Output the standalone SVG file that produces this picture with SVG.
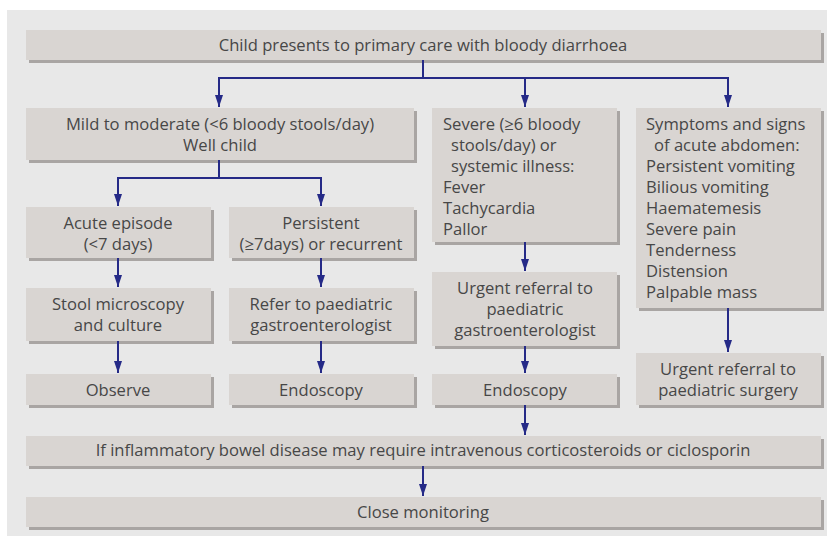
<svg xmlns="http://www.w3.org/2000/svg" width="827" height="536" viewBox="0 0 827 536">
<defs>
<style>
.box{fill:#d9d5d2}
.sh{fill:#a9a5a3}
text{font-family:"Open Sans","Noto Sans",sans-serif;font-size:16.6px;fill:#474747}
.c{text-anchor:middle}
.ln{fill:none;stroke:#252a87;stroke-width:2}
</style>
<marker id="ah" viewBox="0 0 12 8" refX="12" refY="4" markerWidth="12" markerHeight="8" markerUnits="userSpaceOnUse" orient="auto">
<path d="M0,0 L12,4 L0,8 Z" fill="#252a87"/>
</marker>
</defs>
<rect x="7" y="10" width="820" height="526" fill="#e8e8e8"/>

<g id="n-top"><rect class="sh" x="29" y="33" width="795" height="30"/><rect class="box" x="26" y="30" width="795" height="30"/><text class="c" x="423" y="51">Child presents to primary care with bloody diarrhoea</text></g>

<g id="n-mild"><rect class="sh" x="29" y="111" width="388" height="52"/><rect class="box" x="26" y="108" width="388" height="52"/><text class="c" x="220" y="130">Mild to moderate (&lt;6 bloody stools/day)</text><text class="c" x="220" y="151">Well child</text></g>

<g id="n-severe"><rect class="sh" x="435" y="111" width="185" height="134"/><rect class="box" x="432" y="108" width="185" height="134"/>
<text x="443" y="130">Severe (≥6 bloody</text><text x="451" y="151">stools/day) or</text><text x="451" y="172">systemic illness:</text><text x="443" y="193">Fever</text><text x="443" y="214">Tachycardia</text><text x="443" y="235">Pallor</text></g>

<g id="n-symptoms"><rect class="sh" x="639" y="111" width="185" height="200"/><rect class="box" x="636" y="108" width="185" height="200"/>
<text x="646" y="130">Symptoms and signs</text><text x="654" y="151">of acute abdomen:</text><text x="646" y="172">Persistent vomiting</text><text x="646" y="193">Bilious vomiting</text><text x="646" y="214">Haematemesis</text><text x="646" y="235">Severe pain</text><text x="646" y="256">Tenderness</text><text x="646" y="277">Distension</text><text x="646" y="298">Palpable mass</text></g>

<g id="n-acute"><rect class="sh" x="29" y="210" width="185" height="51"/><rect class="box" x="26" y="207" width="185" height="51"/><text class="c" x="118" y="229">Acute episode</text><text class="c" x="118" y="250">(&lt;7 days)</text></g>

<g id="n-persistent"><rect class="sh" x="232" y="210" width="185" height="51"/><rect class="box" x="229" y="207" width="185" height="51"/><text class="c" x="321" y="229">Persistent</text><text class="c" x="321" y="250">(≥7days) or recurrent</text></g>

<g id="n-stool"><rect class="sh" x="29" y="291" width="185" height="53"/><rect class="box" x="26" y="288" width="185" height="53"/><text class="c" x="118" y="310">Stool microscopy</text><text class="c" x="118" y="331">and culture</text></g>

<g id="n-refer"><rect class="sh" x="232" y="291" width="185" height="53"/><rect class="box" x="229" y="288" width="185" height="53"/><text class="c" x="321" y="310">Refer to paediatric</text><text class="c" x="321" y="331">gastroenterologist</text></g>

<g id="n-urgent-gi"><rect class="sh" x="435" y="275" width="185" height="74"/><rect class="box" x="432" y="272" width="185" height="74"/><text class="c" x="525" y="294">Urgent referral to</text><text class="c" x="525" y="315">paediatric</text><text class="c" x="525" y="336">gastroenterologist</text></g>

<g id="n-urgent-surg"><rect class="sh" x="639" y="356" width="185" height="52"/><rect class="box" x="636" y="353" width="185" height="52"/><text class="c" x="728" y="375">Urgent referral to</text><text class="c" x="728" y="396">paediatric surgery</text></g>

<g id="n-observe"><rect class="sh" x="29" y="377" width="185" height="31"/><rect class="box" x="26" y="374" width="185" height="31"/><text class="c" x="118" y="396">Observe</text></g>

<g id="n-endo1"><rect class="sh" x="232" y="377" width="185" height="31"/><rect class="box" x="229" y="374" width="185" height="31"/><text class="c" x="321" y="396">Endoscopy</text></g>

<g id="n-endo2"><rect class="sh" x="435" y="377" width="185" height="31"/><rect class="box" x="432" y="374" width="185" height="31"/><text class="c" x="525" y="396">Endoscopy</text></g>

<g id="n-ibd"><rect class="sh" x="29" y="439" width="795" height="30"/><rect class="box" x="26" y="436" width="795" height="30"/><text class="c" x="423" y="456">If inflammatory bowel disease may require intravenous corticosteroids or ciclosporin</text></g>

<g id="n-close"><rect class="sh" x="29" y="500" width="795" height="30"/><rect class="box" x="26" y="497" width="795" height="30"/><text class="c" x="423" y="518">Close monitoring</text></g>

<g id="connectors">
<path class="ln" d="M423,60 V78"/>
<path class="ln" d="M219,78 H728"/>
<path class="ln" d="M219,77 V107" marker-end="url(#ah)"/>
<path class="ln" d="M525,78 V107" marker-end="url(#ah)"/>
<path class="ln" d="M728,77 V107" marker-end="url(#ah)"/>
<path class="ln" d="M219,160 V178"/>
<path class="ln" d="M118,178 H321"/>
<path class="ln" d="M118,177 V206" marker-end="url(#ah)"/>
<path class="ln" d="M321,177 V206" marker-end="url(#ah)"/>
<path class="ln" d="M118,258 V287" marker-end="url(#ah)"/>
<path class="ln" d="M321,258 V287" marker-end="url(#ah)"/>
<path class="ln" d="M118,341 V373" marker-end="url(#ah)"/>
<path class="ln" d="M321,341 V373" marker-end="url(#ah)"/>
<path class="ln" d="M525,242 V271" marker-end="url(#ah)"/>
<path class="ln" d="M525,346 V373" marker-end="url(#ah)"/>
<path class="ln" d="M728,308 V352" marker-end="url(#ah)"/>
<path class="ln" d="M525,405 V435" marker-end="url(#ah)"/>
<path class="ln" d="M423,466 V496" marker-end="url(#ah)"/>
</g>
</svg>
